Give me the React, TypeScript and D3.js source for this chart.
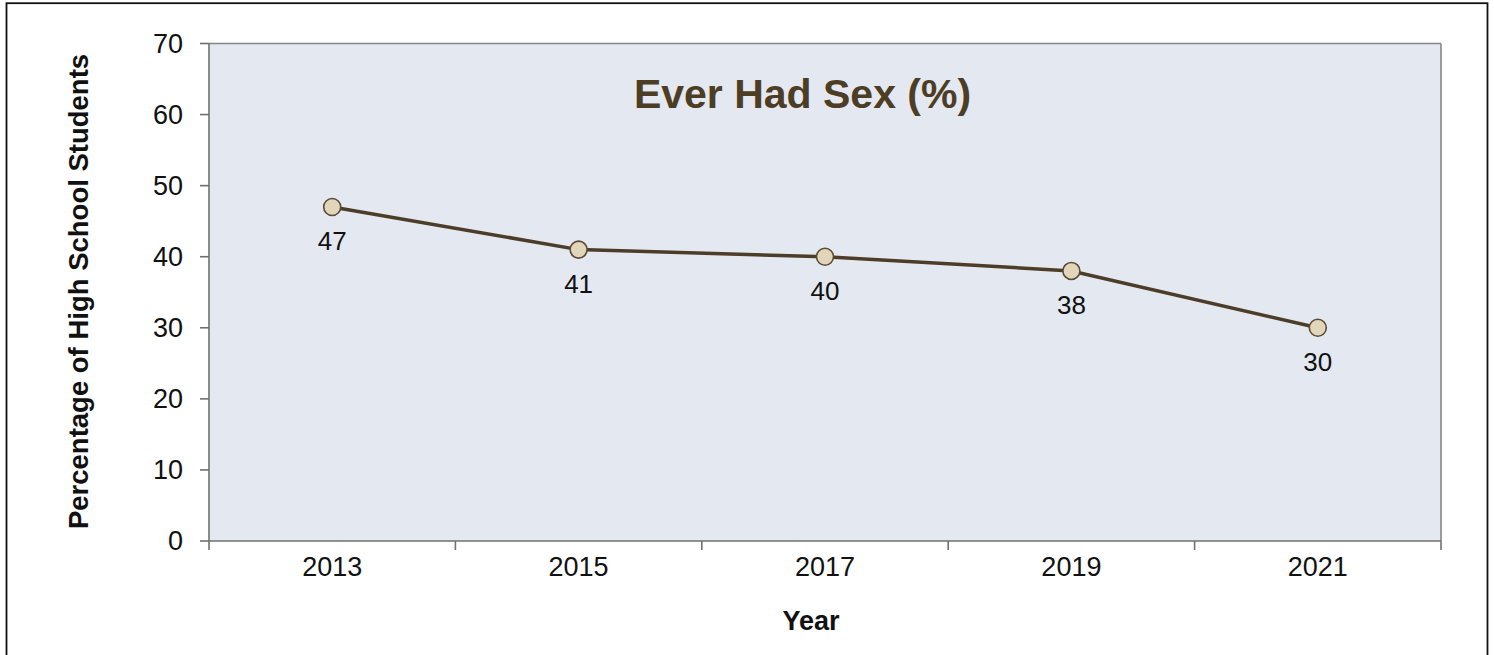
import React from "react";
import * as d3 from "d3";

// Survey years and the share of students who report ever having had sex
const years: string[] = ["2013", "2015", "2017", "2019", "2021"];
const percentages: number[] = [47, 41, 40, 38, 30];
const yTicks: number[] = [0, 10, 20, 30, 40, 50, 60, 70];

const chartTitle = "Ever Had Sex (%)";
const yTitle = "Percentage of High School Students";
const xTitle = "Year";

const W = 1494;
const H = 655;
const plot = { left: 209, top: 43.5, right: 1441, bottom: 541 };
const FONT = "'Liberation Sans', Arial, Helvetica, sans-serif";

export default function App() {
  const x = d3
    .scaleBand<string>()
    .domain(years)
    .range([plot.left, plot.right])
    .paddingInner(0)
    .paddingOuter(0);
  const y = d3.scaleLinear().domain([0, 70]).range([plot.bottom, plot.top]);

  const cx = (d: string) => (x(d) ?? 0) + x.bandwidth() / 2;
  const points = years.map((yr, i) => ({ yr, v: percentages[i] }));

  const line = d3
    .line<{ yr: string; v: number }>()
    .x((d) => cx(d.yr))
    .y((d) => y(d.v));

  // category boundaries for x ticks
  const boundaries = [...years.map((d) => x(d) ?? 0), plot.right];

  return (
    <div style={{ position: "absolute", left: 0, top: 0 }}>
      <svg width={W} height={H} style={{ display: "block", background: "#ffffff" }}>
        {/* outer frame */}
        <rect x={6.5} y={3.2} width={1481} height={H + 10} fill="none" stroke="#111" strokeWidth={1.8} />

        {/* plot area */}
        <rect
          x={plot.left}
          y={plot.top}
          width={plot.right - plot.left}
          height={plot.bottom - plot.top}
          fill="#e4e8f0"
        />
        <line x1={plot.left} x2={plot.right} y1={plot.top} y2={plot.top} stroke="#858585" strokeWidth={1.6} />
        <line x1={plot.right} x2={plot.right} y1={plot.top} y2={plot.bottom} stroke="#858585" strokeWidth={1.6} />

        {/* y axis */}
        <line x1={plot.left} x2={plot.left} y1={plot.top} y2={plot.bottom} stroke="#707070" strokeWidth={1.6} />
        {yTicks.map((t) => (
          <g key={t}>
            <line x1={plot.left - 9} x2={plot.left} y1={y(t)} y2={y(t)} stroke="#707070" strokeWidth={1.6} />
            <text
              x={183}
              y={y(t)}
              dy="0.35em"
              textAnchor="end"
              fontFamily={FONT}
              fontSize={27}
              fill="#111"
            >
              {t}
            </text>
          </g>
        ))}

        {/* x axis */}
        <line x1={plot.left} x2={plot.right} y1={plot.bottom} y2={plot.bottom} stroke="#707070" strokeWidth={1.6} />
        {boundaries.map((bx, i) => (
          <line key={i} x1={bx} x2={bx} y1={plot.bottom} y2={plot.bottom + 9} stroke="#707070" strokeWidth={1.6} />
        ))}
        {years.map((yr) => (
          <text
            key={yr}
            x={cx(yr)}
            y={576}
            textAnchor="middle"
            fontFamily={FONT}
            fontSize={27}
            fill="#111"
          >
            {yr}
          </text>
        ))}

        {/* series */}
        <path d={line(points) ?? ""} fill="none" stroke="#4b3d28" strokeWidth={3.5} />
        {points.map((p) => (
          <g key={p.yr}>
            <circle cx={cx(p.yr)} cy={y(p.v)} r={8.5} fill="#e2d6ba" stroke="#5b4b36" strokeWidth={1.6} />
            <text
              x={cx(p.yr)}
              y={y(p.v) + 43}
              textAnchor="middle"
              fontFamily={FONT}
              fontSize={26}
              fill="#111"
            >
              {p.v}
            </text>
          </g>
        ))}

        {/* titles */}
        <text
          x={802.5}
          y={108}
          textAnchor="middle"
          fontFamily={FONT}
          fontWeight="bold"
          fontSize={41}
          fill="#4d3d24"
        >
          {chartTitle}
        </text>
        <text
          transform={`translate(88, 291.5) rotate(-90)`}
          textAnchor="middle"
          fontFamily={FONT}
          fontWeight="bold"
          fontSize={27.5}
          fill="#111"
        >
          {yTitle}
        </text>
        <text
          x={811}
          y={630}
          textAnchor="middle"
          fontFamily={FONT}
          fontWeight="bold"
          fontSize={27}
          fill="#111"
        >
          {xTitle}
        </text>
      </svg>
    </div>
  );
}
